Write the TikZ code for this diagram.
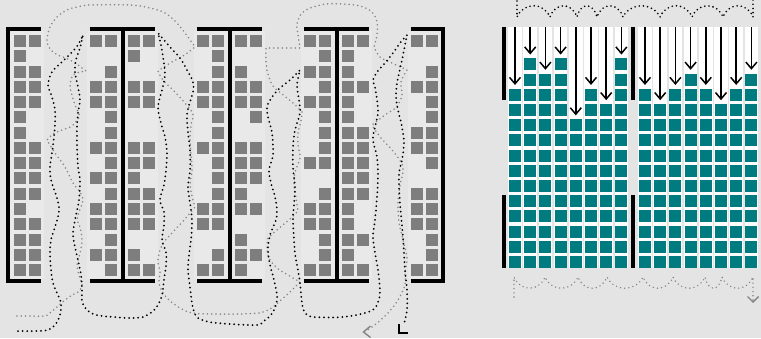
\documentclass[tikz,border=0pt]{standalone}
\usetikzlibrary{calc}
\definecolor{bgc}{HTML}{E4E4E4}
\definecolor{panelc}{HTML}{E9E9E9}
\definecolor{boxc}{HTML}{7E7E7E}
\definecolor{tealc}{HTML}{007B7F}
\definecolor{dotgrey}{HTML}{858585}
\tikzset{
 wall/.style={fill=black},
 slot/.style={fill=boxc},
 panel/.style={fill=panelc},
 bdots/.style={draw=black,line width=2pt,line cap=round,dash pattern=on 0pt off 4.6pt},
 gdots/.style={draw=dotgrey,line width=1.75pt,line cap=round,dash pattern=on 0pt off 4.3pt},
 tbox/.style={fill=tealc},
 lane/.style={fill=white},
 dropline/.style={draw=black,line width=1.5pt},
 chev/.style={draw=black,line width=1.5pt,line join=miter},
 gchev/.style={draw=dotgrey,line width=1.4pt,line join=miter},
}
\newcommand{\rackcol}[2]{%
  \foreach \b [count=\k from 0] in {#2}{%
    \ifnum\b=1 \fill[slot] (#1,{35+15.27*\k}) rectangle ++(12,12);\fi
  }}
\newcommand{\gridcol}[2]{%
  \fill[lane] ({#1-0.8},27) rectangle ({#1+12.8},268);
  \foreach \k in {1,...,#2}{\fill[tbox] (#1,{256-15.2*(\k-1)}) rectangle ++(12,12);}
  \pgfmathsetmacro{\gtip}{256-15.2*(#2-1)-5}
  \draw[dropline] ({#1+6},27) -- ({#1+6},\gtip);
  \draw[chev] ({#1+0.5},{\gtip-6.5}) -- ({#1+6},\gtip) -- ({#1+11.5},{\gtip-6.5});
}
\begin{document}
\begin{tikzpicture}[x=1pt,y=-1pt]
\fill[bgc] (0,0) rectangle (761,338);
\useasboundingbox (0,0) rectangle (761,338);
% ---------- left: racks ----------
\fill[panel] (10,31) rectangle (44,279);
\fill[panel] (87,31) rectangle (158,279);
\fill[panel] (194,31) rectangle (265,279);
\fill[panel] (301,31) rectangle (372,279);
\fill[panel] (408,31) rectangle (441,279);
\rackcol{14}{1,1,1,1,1,1,1,1,1,1,1,1,1,1,1,1}
\rackcol{29}{1,0,1,1,1,0,0,1,1,1,1,0,1,1,1,1}
\rackcol{90}{1,0,0,1,1,0,0,1,0,1,0,1,1,0,1,0}
\rackcol{105}{1,0,1,1,1,1,1,1,1,1,1,1,1,1,1,1}
\rackcol{128}{1,1,0,1,1,0,0,1,1,1,1,1,1,0,1,1}
\rackcol{143}{1,0,0,1,1,0,0,1,1,0,1,1,1,0,0,1}
\rackcol{197}{1,0,0,1,1,0,0,1,0,0,0,1,1,0,0,1}
\rackcol{212}{1,1,1,1,1,1,1,1,1,1,1,1,1,0,1,1}
\rackcol{235}{1,0,1,1,1,0,0,1,1,1,1,1,0,1,1,1}
\rackcol{250}{1,0,0,1,1,1,0,1,1,1,0,1,0,0,1,0}
\rackcol{304}{1,0,1,0,1,0,0,0,1,0,0,1,1,0,0,1}
\rackcol{319}{1,1,1,1,1,1,1,1,1,0,1,1,1,1,1,1}
\rackcol{342}{1,1,1,1,1,1,1,1,1,1,1,1,1,1,1,1}
\rackcol{357}{1,0,0,1,0,0,1,1,1,1,1,0,0,1,0,1}
\rackcol{411}{1,0,0,1,0,0,1,1,0,0,1,1,1,0,0,1}
\rackcol{426}{1,0,1,1,1,1,1,1,1,0,1,1,1,1,1,1}
% walls
\fill[wall] (6,27) rectangle (41,31);
\fill[wall] (6,279) rectangle (41,283);
\fill[wall] (6,27) rectangle (10,283);
\foreach \o in {0,107,214}{
  \fill[wall] ({90+\o},27) rectangle ({155+\o},31);
  \fill[wall] ({90+\o},279) rectangle ({155+\o},283);
  \fill[wall] ({120.5+\o},27) rectangle ({124.5+\o},283);
}
\fill[wall] (411,27) rectangle (445,31);
\fill[wall] (411,279) rectangle (445,283);
\fill[wall] (441,27) rectangle (445,283);
% ---------- left: routes ----------
\draw[gdots] plot[smooth,tension=0.55] coordinates {(17,316) (30,316) (45,316) (50,313) (57,307) (65,300) (72,295) (78,292) (82,285) (79,275) (77,265) (80,253) (82,240) (80,227) (77,220) (79,212) (83,200) (80,192) (73,183) (65,167) (55,153) (47,140)}
  -- plot[smooth,tension=0.55] coordinates {(47,140) (53,134) (62,130) (72,126) (80,116)}
  -- plot[smooth,tension=0.55] coordinates {(80,116) (75,105) (72,95) (70,85) (73,75) (80,72) (86,71)}
  -- plot[smooth,tension=0.55] coordinates {(86,71) (78,65) (68,59) (58,55) (50,49) (47,40) (50,27) (57,17) (67,10) (77,7) (90,5) (130,5) (150,8) (165,13) (177,23) (188,37) (195,47)}
  -- plot[smooth,tension=0.55] coordinates {(195,47) (183,56) (170,63) (158,71)}
  -- plot[smooth,tension=0.55] coordinates {(158,71) (163,80) (173,90) (185,103) (193,114) (191,125) (190,140) (191,155) (192,170) (190,185) (193,200) (195,207)}
  -- plot[smooth,tension=0.55] coordinates {(195,207) (185,219) (172,233) (162,245) (158,260) (160,272) (159,283) (163,293) (170,301) (180,308) (192,313) (213,314) (240,314) (260,313)}
  -- plot[smooth,tension=0.55] coordinates {(260,313) (270,309) (280,301) (292,290) (300,282)}
  -- plot[smooth,tension=0.55] coordinates {(300,282) (288,275) (277,268) (269,258) (267,246) (268,238)}
  -- plot[smooth,tension=0.55] coordinates {(268,238) (278,229) (290,219) (298,211)}
  -- plot[smooth,tension=0.55] coordinates {(298,211) (296,198) (294,185) (295,172) (300,158) (298,145) (298,133) (301,121) (302,112)}
  -- plot[smooth,tension=0.55] coordinates {(302,112) (293,103) (282,94) (273,86) (268,74) (266,62) (266,48)}
  -- (300,48)
  -- plot[smooth,tension=0.55] coordinates {(300,48) (298,35) (297,24) (302,13) (313,7) (327,4) (343,4) (360,6) (372,12) (377,22) (377,35) (374,47)}
  -- plot[smooth,tension=0.55] coordinates {(374,47) (380,57) (392,63) (407,70)}
  -- plot[smooth,tension=0.55] coordinates {(407,70) (401,82) (402,96) (396,108)}
  -- plot[smooth,tension=0.55] coordinates {(396,108) (385,115) (372,125)}
  -- plot[smooth,tension=0.55] coordinates {(372,125) (380,137) (393,151) (403,167) (400,185) (398,203) (399,222) (403,240) (407,258) (405,272) (405,285) (398,300) (388,313) (376,324) (366,331)};
\draw[gchev] (370.5,326) -- (363.5,332) -- (370.5,337.5);
\draw[bdots] plot[smooth,tension=0.55] coordinates {(18,331) (35,331) (48,330) (55,325) (60,315) (61,303) (57,293) (53,283) (51,270) (50,253) (51,240) (55,227) (58,217) (59,207) (56,195) (51,180) (50,167) (52,153) (54,137) (55,123) (55,110) (52,97) (48,85) (52,72) (62,62) (72,52) (78,45) (83,35)}
  -- plot[smooth,tension=0.55] coordinates {(83,35) (80,48) (76,60) (75,72) (78,87) (80,100) (78,113) (77,127) (77,145) (78,167) (80,180) (79,200) (76,215) (73,233) (75,247) (78,260) (81,275) (82,290) (82,301) (86,309) (96,315) (113,317) (130,318) (143,317) (152,312) (158,305) (162,295) (164,280) (166,265) (166,252) (162,240) (164,225) (164,212) (160,200) (164,185) (166,170) (167,153) (165,137) (161,123) (158,107) (162,90) (165,75) (163,57) (161,45) (158,33)}
  -- plot[smooth,tension=0.55] coordinates {(158,33) (170,47) (180,58) (187,70) (193,82) (193,92) (190,102) (187,115) (188,133) (190,150) (190,170) (188,187) (190,203) (192,220) (191,240) (189,255) (188,270) (190,287) (192,303) (196,316) (205,321) (217,323) (230,324) (257,325) (264,321) (271,315) (276,305) (277,295) (274,280) (270,265) (268,250) (270,235) (276,220) (277,210) (275,197) (271,183) (269,170) (273,155) (272,133) (268,117) (267,107) (272,97) (280,88) (290,80) (300,70)}
  -- plot[smooth,tension=0.55] coordinates {(300,70) (297,85) (299,100) (300,113) (295,130) (293,147) (293,167) (295,187) (294,205) (293,220) (295,253) (298,270) (300,283) (302,303) (305,313) (314,317) (343,317) (365,313) (374,309) (378,302) (380,292) (378,270) (375,253) (373,237) (375,220) (377,197) (378,175) (377,157) (373,140) (375,127) (378,113) (377,100) (375,87) (373,80) (377,72) (385,63) (393,53) (400,43) (407,35)}
  -- plot[smooth,tension=0.55] coordinates {(407,35) (404,50) (401,65) (397,83) (396,97) (398,110) (402,127) (404,143) (402,160) (399,175) (400,203) (403,237) (405,270) (407,290) (407,310) (404,324)};
\draw[chev,line width=1.5pt] (399,324) -- (399,333) -- (408,333);
% ---------- right: compacted grid ----------
\foreach \n [count=\i from 0] in {12,14,13,14,10,12,11,14}{\gridcol{509+15.2*\i}{\n}}
\foreach \n [count=\i from 0] in {12,11,12,13,12,11,12,13}{\gridcol{639+15.2*\i}{\n}}
\fill[wall] (502,27) rectangle (506,100);
\fill[wall] (502,195) rectangle (506,268);
\fill[wall] (631,27) rectangle (635,100);
\fill[wall] (631,195) rectangle (635,268);
% top scallops
\draw[bdots,line width=1.8pt,dash pattern=on 0pt off 4.2pt] (753,0) -- (753,17)
  \foreach \a/\b in {753/723,723/692,692/660,660/623,623/597,597/577,577/550,550/517}{
    .. controls ({\a-0.2*(\a-\b)},2) and ({\b+0.2*(\a-\b)},2) .. (\b,17)} -- (517,0);
% bottom scallops
\draw[gdots,line width=1.6pt,dash pattern=on 0pt off 4.2pt] (514,297) -- (514,277)
  \foreach \a/\b in {514/545,545/578,578/607,607/643,643/673,673/705,705/722,722/753}{
    .. controls ({\a+0.2*(\b-\a)},292) and ({\b-0.2*(\b-\a)},292) .. (\b,277)} -- (753,300);
\draw[gchev] (747.5,296.5) -- (753,302) -- (758.5,296.5);
\end{tikzpicture}
\end{document}
